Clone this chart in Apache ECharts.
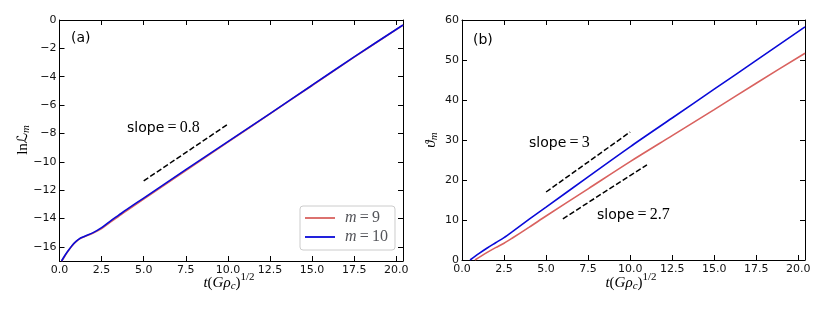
<!DOCTYPE html>
<html><head><meta charset="utf-8">
<script src="https://cdn.jsdelivr.net/npm/echarts@6/dist/echarts.min.js"></script>
<style>html,body{margin:0;padding:0;background:#fff}#c{width:830px;height:312px}</style>
</head><body><div id="c"></div>
<script>
// ---- data ----
const tTicks = [0, 2.5, 5, 7.5, 10, 12.5, 15, 17.5, 20];
const lnTicks = [-16, -14, -12, -10, -8, -6, -4, -2, 0];
const thetaTicks = [0, 10, 20, 30, 40, 50, 60];

const lnL_m9 = [[0.12,-17.02],[0.3,-16.68],[0.5,-16.32],[0.75,-15.92],[1.0,-15.62],[1.25,-15.4],[1.5,-15.27],[2.0,-15.03],[2.5,-14.72],[3.0,-14.28],[3.5,-13.86],[4.0,-13.44],[5.0,-12.64],[7.5,-10.62],[10,-8.62],[12.5,-6.62],[15,-4.62],[17.5,-2.62],[20.4,-0.36]];
const lnL_m10 = [[0.12,-17.0],[0.3,-16.65],[0.5,-16.3],[0.75,-15.9],[1.0,-15.6],[1.25,-15.38],[1.5,-15.25],[2.0,-15.0],[2.5,-14.65],[3.0,-14.2],[3.5,-13.78],[4.0,-13.36],[5.0,-12.56],[7.5,-10.56],[10,-8.58],[12.5,-6.6],[15,-4.6],[17.5,-2.6],[20.4,-0.35]];

const theta_m9 = [[0.77,0],[1.5,1.9],[2.0,3.1],[2.5,4.2],[3.0,5.5],[4.0,8.2],[5.0,11.0],[7.5,17.8],[10,24.6],[12.5,31.1],[15,37.6],[17.5,44.2],[20.4,51.7]];
const theta_m10 = [[0.48,0],[1.0,1.6],[1.5,3.0],[2.0,4.3],[2.5,5.6],[3.0,7.1],[4.0,10.2],[5.0,13.2],[7.5,20.8],[10,28.3],[12.5,35.5],[15,42.7],[17.5,49.9],[20.4,58.3]];

const slopeA = [[5,-11.35],[10,-7.35]];
const slopeB1 = [[5,17],[10,32]];
const slopeB2 = [[6,10.3],[11,23.8]];

const names = ['m = 9', 'm = 10'];
const colors = ['#d9625f', '#0a0ad8'];

// ---- chart ----
const minus = v => (v < 0 ? '\u2212' : '') + Math.abs(v);
const labelStyle = {color:'#111', fontSize:11, fontFamily:'DejaVu Sans'};

function xAx(grid, pos, show) {
  return {type:'value', gridIndex:grid, position:pos, min:0, max:20.4,
    axisLine:{show:true, onZero:false, lineStyle:{color:'#000', width:1}},
    axisTick:{show:true, inside:true, length:5, customValues:tTicks, lineStyle:{color:'#000', width:1}},
    axisLabel:Object.assign({show:show, customValues:tTicks, margin:4, formatter:v=>v.toFixed(1)}, labelStyle),
    splitLine:{show:false}};
}
function yAx(grid, pos, show, mn, mx, ticks) {
  return {type:'value', gridIndex:grid, position:pos, min:mn, max:mx,
    axisLine:{show:true, onZero:false, lineStyle:{color:'#000', width:1}},
    axisTick:{show:true, inside:true, length:5, customValues:ticks, lineStyle:{color:'#000', width:1}},
    axisLabel:Object.assign({show:show, customValues:ticks, margin:3, formatter:v=>minus(v)}, labelStyle),
    splitLine:{show:false}};
}

function line(name, data, xi, yi, color, width, dashed) {
  return {type:'line', name:name, data:data, xAxisIndex:xi, yAxisIndex:yi, showSymbol:false, symbol:'none',
    smooth:!dashed ? 0.3 : false, silent:true, animation:false, z: dashed ? 3 : 2,
    lineStyle:{color:color, width:width, type: dashed ? [5.5,2.4] : 'solid'}, itemStyle:{color:color}};
}

const serifI = {fontFamily:'Liberation Serif', fontStyle:'italic', fontSize:15};
const serif = {fontFamily:'Liberation Serif', fontSize:15};
const rich = {
  i: serifI, r: serif,
  cal: {fontFamily:'DejaVu Sans', fontStyle:'italic', fontSize:14},
  sub: {fontFamily:'Liberation Serif', fontStyle:'italic', fontSize:11, padding:[7,0,0,0]},
  sup: {fontFamily:'Liberation Serif', fontSize:11, padding:[0,0,11,0]},
  sans: {fontFamily:'DejaVu Sans', fontSize:14},
  num: {fontFamily:'Liberation Serif', fontSize:16}
};
const xName = '{i|t}{r|(}{i|G\u03c1}{sub|c}{r|)}{sup|1/2}';

const option = {
  animation:false,
  backgroundColor:'#fff',
  grid:[
    {left:59.5, top:20, width:343.5, height:241},
    {left:462, top:20, width:343, height:240}
  ],
  xAxis:[xAx(0,'bottom',true), xAx(0,'top',false), xAx(1,'bottom',true), xAx(1,'top',false)],
  yAxis:[yAx(0,'left',true,-17,0,lnTicks), yAx(0,'right',false,-17,0,lnTicks),
         yAx(1,'left',true,0,60,thetaTicks), yAx(1,'right',false,0,60,thetaTicks)],
  legend:{
    show:true, orient:'vertical', left:300, top:206, 
    data:[{name:names[0], icon:'rect'},{name:names[1], icon:'rect'}],
    padding:[4,7,5,5], itemGap:3, itemWidth:30, itemHeight:1.8,
    borderColor:'#cccccc', borderWidth:1, borderRadius:3, backgroundColor:'rgba(255,255,255,0.85)',
    selectedMode:false,
    formatter: n => n === 'm = 9' ? '{i|m}{r|\u2009=\u20099}' : '{i|m}{r|\u2009=\u200910}',
    textStyle:{padding:[0,0,0,5], rich:{i:{fontFamily:'Liberation Serif', fontStyle:'italic', fontSize:16, lineHeight:18}, r:{fontFamily:'Liberation Serif', fontSize:16, lineHeight:18}}}
  },
  series:[
    line(names[0], lnL_m9, 0, 0, colors[0], 1.6, false),
    line(names[1], lnL_m10, 0, 0, colors[1], 1.6, false),
    line('sA', slopeA, 0, 0, '#000', 1.5, true),
    line(names[0], theta_m9, 2, 2, colors[0], 1.6, false),
    line(names[1], theta_m10, 2, 2, colors[1], 1.6, false),
    line('sB1', slopeB1, 2, 2, '#000', 1.5, true),
    line('sB2', slopeB2, 2, 2, '#000', 1.5, true)
  ],
  graphic:[
    {type:'text', x:71, y:38, style:{text:'(a)', font:'14px DejaVu Sans', fill:'#000', verticalAlign:'middle'}},
    {type:'text', x:473, y:40, style:{text:'(b)', font:'14px DejaVu Sans', fill:'#000', verticalAlign:'middle'}},
    {type:'text', x:127, y:128, style:{text:'{sans|slope}{num|\u2009=\u20090.8}', rich:rich, fill:'#000', verticalAlign:'middle'}},
    {type:'text', x:529, y:143, style:{text:'{sans|slope}{num|\u2009=\u20093}', rich:rich, fill:'#000', verticalAlign:'middle'}},
    {type:'text', x:597, y:215, style:{text:'{sans|slope}{num|\u2009=\u20092.7}', rich:rich, fill:'#000', verticalAlign:'middle'}},
    {type:'text', x:229, y:283, style:{text:xName, rich:rich, fill:'#000', align:'center', verticalAlign:'middle'}},
    {type:'text', x:631, y:283, style:{text:xName, rich:rich, fill:'#000', align:'center', verticalAlign:'middle'}},
    {type:'text', x:23, y:140, rotation:Math.PI/2, style:{text:'{r|ln}{cal|\u2112}{sub|m}', rich:rich, fill:'#000', align:'center', verticalAlign:'middle'}},
    {type:'text', x:431, y:140, rotation:Math.PI/2, style:{text:'{i|\u03d1}{sub|m}', rich:rich, fill:'#000', align:'center', verticalAlign:'middle'}}
  ]
};
const chart = echarts.init(document.getElementById('c'), null, {renderer:'canvas'});
chart.setOption(option);
</script>
</body></html>
